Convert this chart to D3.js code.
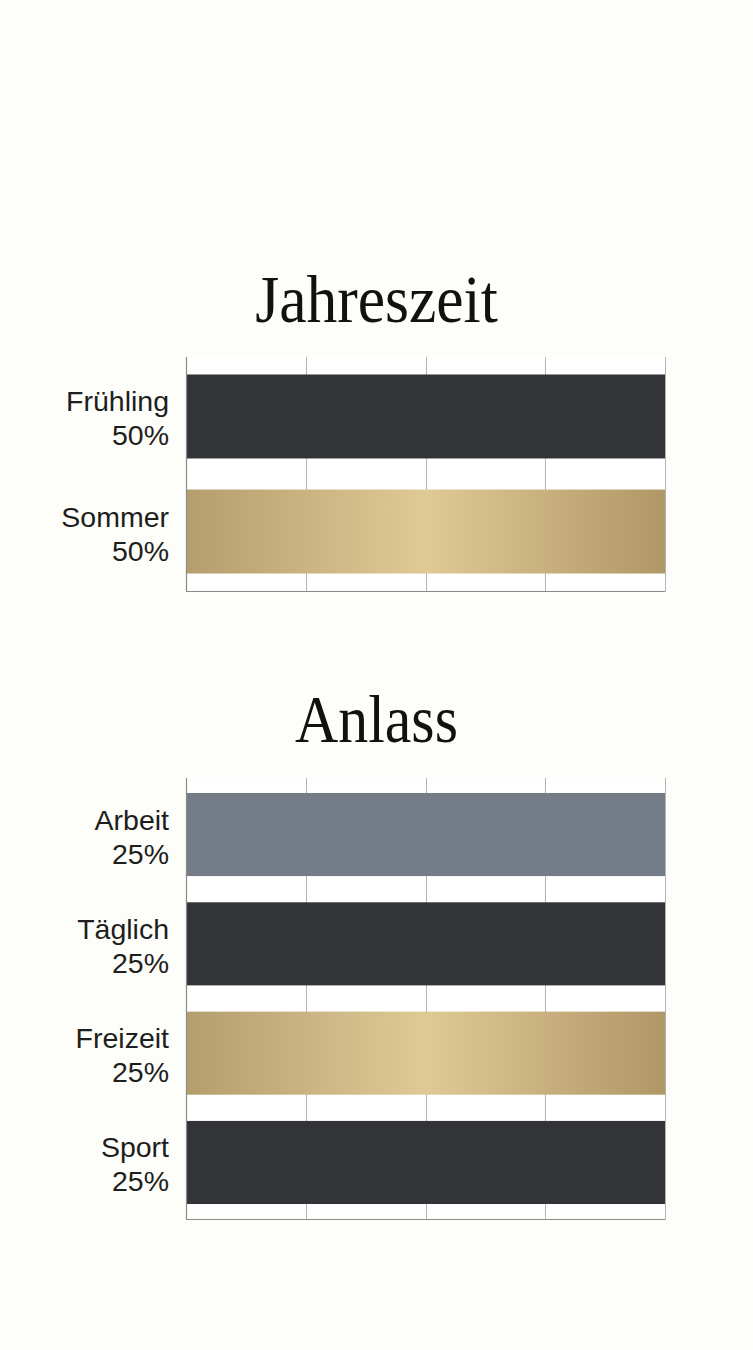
<!DOCTYPE html>
<html><head><meta charset="utf-8">
<script src="https://cdn.jsdelivr.net/npm/d3@7"></script>
<style>
html,body{margin:0;padding:0;background:#fdfdf9;}
svg{display:block;}
</style></head>
<body>
<script>
// Data
const seasonCategories = ["Frühling", "Sommer"];
const seasonValues = [50, 50];
const seasonColors = ["dark", "gold"];
const occasionCategories = ["Arbeit", "Täglich", "Freizeit", "Sport"];
const occasionValues = [25, 25, 25, 25];
const occasionColors = ["slate", "dark", "gold", "dark"];
const titles = ["Jahreszeit", "Anlass"];

const W = 753, H = 1350;
const svg = d3.select("body").append("svg").attr("width", W).attr("height", H);
svg.append("rect").attr("width", W).attr("height", H).attr("fill", "#fdfdf9");

const defs = svg.append("defs");
const grad = defs.append("linearGradient").attr("id", "goldGrad")
  .attr("x1", "0%").attr("x2", "100%").attr("y1", "0%").attr("y2", "0%");
[["0%", "#b59e6d"], ["50%", "#dfc995"], ["100%", "#b09866"]].forEach(([o, c]) =>
  grad.append("stop").attr("offset", o).attr("stop-color", c));

const fills = { dark: "#323437", gold: "url(#goldGrad)", slate: "#747d87" };

function panel(cfg) {
  const { title, titleY, tScale, cats, vals, cols, top, bottom, left, right, pi, po } = cfg;
  const g = svg.append("g");
  // title
  g.append("text")
    .attr("transform", `translate(${W / 2},${titleY}) scale(${tScale},1)`)
    .attr("text-anchor", "middle")
    .attr("font-family", "'Liberation Serif', 'DejaVu Serif', serif")
    .attr("font-size", 68)
    .attr("fill", "#111")
    .text(title);

  const x = d3.scaleLinear().domain([0, d3.max(vals)]).range([left, right]);
  const y = d3.scaleBand().domain(cats).range([top, bottom]).paddingInner(pi).paddingOuter(po);

  // white plot background
  g.append("rect").attr("x", left).attr("y", top)
    .attr("width", right - left).attr("height", bottom - top).attr("fill", "#ffffff");

  // vertical grid
  const ticks = d3.range(0, 5).map(i => d3.max(vals) * i / 4);
  g.selectAll(".grid").data(ticks.slice(1)).join("line")
    .attr("x1", d => Math.round(x(d)) + 0.5).attr("x2", d => Math.round(x(d)) + 0.5)
    .attr("y1", top).attr("y2", bottom)
    .attr("stroke", "#b4b4b4").attr("stroke-width", 1);

  // bars
  g.selectAll(".bar").data(cats).join("rect")
    .attr("x", x(0)).attr("y", d => y(d))
    .attr("width", (d, i) => x(vals[i]) - x(0))
    .attr("height", y.bandwidth())
    .attr("fill", (d, i) => fills[cols[i]]);

  // axes lines (left and bottom)
  g.append("line").attr("x1", left + 0.5).attr("x2", left + 0.5)
    .attr("y1", top).attr("y2", bottom + 0.5).attr("stroke", "#8a8a8a").attr("stroke-width", 1.2);
  g.append("line").attr("x1", left).attr("x2", right + 0.5)
    .attr("y1", bottom + 0.5).attr("y2", bottom + 0.5).attr("stroke", "#8a8a8a").attr("stroke-width", 1.2);

  // labels (two lines)
  const lab = g.selectAll(".lab").data(cats).join("text")
    .attr("text-anchor", "end")
    .attr("font-family", "'Liberation Sans', Arial, sans-serif")
    .attr("font-size", 28.5)
    .attr("fill", "#1e1e1e");
  lab.append("tspan").attr("x", left - 17)
    .attr("y", d => y(d) + y.bandwidth() / 2 - 5).text(d => d);
  lab.append("tspan").attr("x", left - 17)
    .attr("y", d => y(d) + y.bandwidth() / 2 + 29).text((d, i) => vals[i] + "%");
}

panel({ title: titles[0], titleY: 322, tScale: 0.905, cats: seasonCategories, vals: seasonValues, cols: seasonColors,
  top: 357, bottom: 591, left: 186, right: 665, pi: 0.27, po: 0.152 });
panel({ title: titles[1], titleY: 742, tScale: 0.88, cats: occasionCategories, vals: occasionValues, cols: occasionColors,
  top: 778, bottom: 1219, left: 186, right: 665, pi: 0.24, po: 0.137 });
</script>
</body></html>
